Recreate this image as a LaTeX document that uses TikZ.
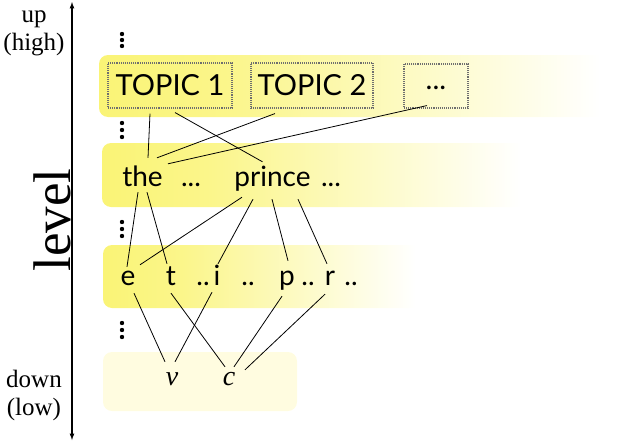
\documentclass[tikz,border=0pt]{standalone}
\usepackage{fontspec}
\setmainfont{Liberation Serif}
\newfontfamily\gillfont{Lato}
\definecolor{bandyellow}{RGB}{250,244,118}
\definecolor{palebandyellow}{RGB}{255,252,224}
\definecolor{boxgray}{RGB}{110,110,110}
\pgfdeclarehorizontalshading{bandfade}{100bp}{color(0bp)=(bandyellow); color(25bp)=(bandyellow); color(37bp)=(bandyellow!85); color(72bp)=(white); color(100bp)=(white)}
\tikzset{
  band/.style={rounded corners=9pt, shading=bandfade},
  topicbox/.style={draw=boxgray, densely dotted, line width=1.1pt, inner sep=0pt, minimum height=45pt, font=\gillfont\fontsize{29}{29}\selectfont},
  word/.style={anchor=base, inner xsep=0pt, inner ysep=8pt, text height=20pt, text depth=0pt, font=\gillfont\fontsize{28}{28}\selectfont},
  letter/.style={anchor=base, inner xsep=0pt, inner ysep=7pt, text height=14pt, text depth=0pt, font=\gillfont\fontsize{28}{28}\selectfont},
  cls/.style={anchor=base, inner xsep=0pt, inner ysep=5pt, text height=13pt, text depth=0pt, font=\fontsize{28}{28}\selectfont\itshape},
  side/.style={align=center, font=\fontsize{25}{28}\selectfont},
  link/.style={line width=0.8pt}
}
\begin{document}
\begin{tikzpicture}[x=1pt,y=-1pt]
		\useasboundingbox (0,0) rectangle (640,442);
		\shade[band] (99,55) rectangle (632,117);
		\shade[band] (102,143) rectangle (548,207);
		\shade[band] (103,245) rectangle (435,308);
		\fill[palebandyellow,rounded corners=9pt] (103,352) rectangle (297,411);
		\coordinate (up) at (72,2);
		\coordinate (down) at (72,440);
		\draw[latex-latex,line width=1.2pt] (up) -- (down);
		\node[side] (high) at (34,33) {up\\(high)};
		\node[side] (low) at (34,395) {down\\(low)};
		\node[anchor=base,rotate=90,inner sep=0pt,font=\fontsize{53}{53}\selectfont] (level) at (70,220) {level};
		\foreach \y in {34,40,46,123,130,137,222,229,236,323,330,337}
			\fill (122,\y) circle (2.2);
		\node[topicbox,minimum width=124pt] (t1) at (170,85.5) {TOPIC 1};
		\node[topicbox,minimum width=122pt] (t2) at (312,85.5) {TOPIC 2};
		\node[topicbox,minimum width=64pt,minimum height=44pt] (t3) at (436,86) {\raisebox{-7pt}{...}};
		\node[word] (the) at (142.5,186) {the};
		\node[word] (gap1) at (191,186) {...};
		\node[word] (prince) at (272.5,186) {prince};
		\node[word] (gap2) at (331,186) {...};
		\node[letter] (e) at (128,285) {e};
		\node[letter] (t) at (171,285) {t};
		\node[letter] (dd1) at (203,285) {..};
		\node[letter] (i) at (217,285) {i};
		\node[letter] (dd2) at (248,285) {..};
		\node[letter] (p) at (287,285) {p};
		\node[letter] (dd3) at (308,285) {..};
		\node[letter] (r) at (330,285) {r};
		\node[letter] (dd4) at (351,285) {..};
		\node[cls] (v) at (172,385) {v};
		\node[cls] (c) at (229,385) {c};
		\draw[link] ([xshift=-20pt,yshift=-5pt]t1.south) -- ([xshift=5.5pt]the.north);
		\draw[link] ([xshift=5pt,yshift=-4pt]t1.south) -- ([xshift=-10pt,yshift=-4pt]prince.north);
		\draw[link] ([xshift=-37pt,yshift=-5pt]t2.south) -- ([xshift=14.5pt]the.north);
		\draw[link] ([xshift=-9pt,yshift=3pt]t3.south) -- ([xshift=25.5pt,yshift=-6pt]the.north);
		\draw[link] ([xshift=-4.5pt,yshift=2pt]the.south) -- ([xshift=-1pt,yshift=-3pt]e.north);
		\draw[link] ([xshift=4.5pt,yshift=2pt]the.south) -- ([xshift=-4pt]t.north);
		\draw[link] ([xshift=-30.5pt,yshift=-3pt]prince.south) -- ([xshift=12pt,yshift=-1pt]e.north);
		\draw[link] ([xshift=-19.5pt,yshift=-5pt]prince.south) -- ([xshift=1pt]i.north);
		\draw[link] ([xshift=-0.5pt,yshift=-5pt]prince.south) -- ([xshift=1pt,yshift=3pt]p.north);
		\draw[link] ([xshift=25.5pt,yshift=-5pt]prince.south) -- ([xshift=-3pt]r.north);
		\draw[link] ([xshift=6pt,yshift=-1pt]e.south) -- ([xshift=-7pt,yshift=5pt]v.north);
		\draw[link] ([xshift=-5pt]i.south) -- ([xshift=3pt,yshift=5pt]v.north);
		\draw[link] ([yshift=-1pt]t.south) -- ([xshift=-4pt]c.north);
		\draw[link] ([xshift=-5pt,yshift=-4pt]p.south) -- ([xshift=5pt]c.north);
		\draw[link] ([xshift=-5pt,yshift=-2pt]r.south) -- ([xshift=16pt,yshift=-3pt]c.north);
\end{tikzpicture}
\end{document}
